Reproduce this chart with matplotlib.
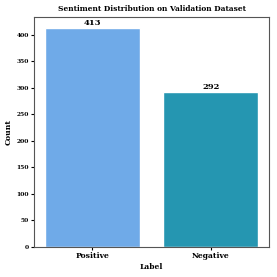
import numpy as np
import matplotlib
matplotlib.use("Agg")
import matplotlib.pyplot as plt

labels = ["Positive", "Negative"]
counts = [413, 292]
colors = ["#6faae8", "#2596b1"]

plt.rcParams['font.family'] = 'DejaVu Serif'
plt.rcParams['font.weight'] = 'bold'

fig = plt.figure(figsize=(2.77, 2.77), dpi=100)
ax = fig.add_axes([34/277, 30/277, 235/277, 230/277])
x = np.arange(len(labels))
bars = ax.bar(x, counts, width=0.8, color=colors, edgecolor="white", linewidth=1)
for b, c in zip(bars, counts):
	ax.text(b.get_x() + b.get_width()/2, c + 1, str(c), ha="center", va="bottom",
			fontsize=6, fontweight="bold")
ax.set_xlim(-0.49, 1.49)
ax.set_ylim(0, 433)
ax.set_xticks(x)
ax.set_xticklabels(labels, fontsize=5.5, fontweight="bold")
ax.tick_params(axis="y", labelsize=4.3, length=2, pad=1.5)
ax.tick_params(axis="x", length=2, pad=1.5)
for t in ax.get_yticklabels():
	t.set_fontweight("bold")
ax.set_xlabel("Label", fontsize=5.5, fontweight="bold", labelpad=2)
ax.set_ylabel("Count", fontsize=5.5, fontweight="bold", labelpad=3)
ax.set_title("Sentiment Distribution on Validation Dataset", fontsize=5.4, fontweight="bold", pad=4)
for s in ax.spines.values():
	s.set_color("#555555")
	s.set_linewidth(0.8)
fig.savefig("out.png", dpi=100)
